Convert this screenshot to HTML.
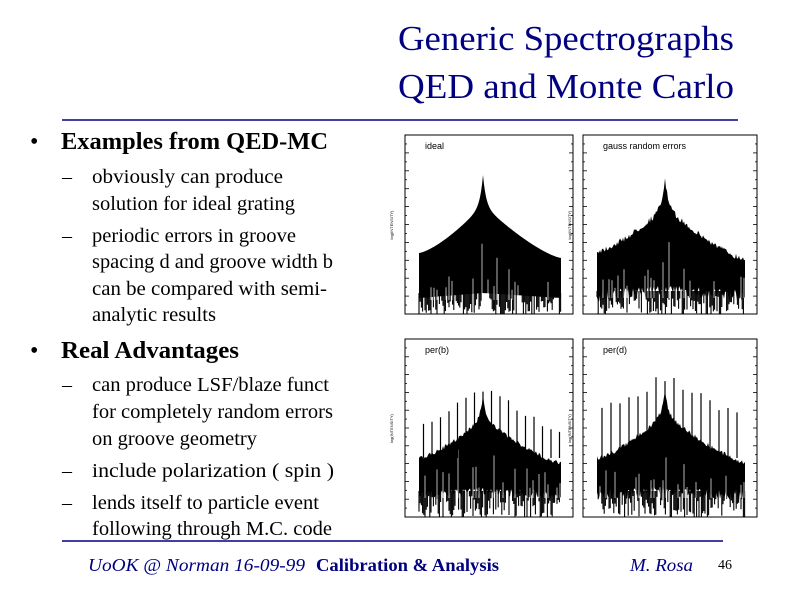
<!DOCTYPE html>
<html><head><meta charset="utf-8"><style>
html,body{margin:0;padding:0;background:#fff;width:800px;height:600px;overflow:hidden}
svg{display:block}
.t{font-family:"Liberation Serif",serif}
</style></head><body>
<svg id="s" width="800" height="600" xmlns="http://www.w3.org/2000/svg">
<g class="t" fill="#000080">
<text x="398" y="50" font-size="35" textLength="336" lengthAdjust="spacingAndGlyphs">Generic Spectrographs</text>
<text x="398" y="98" font-size="35" textLength="336" lengthAdjust="spacingAndGlyphs">QED and Monte Carlo</text>
</g>
<line x1="62" y1="120" x2="738" y2="120" stroke="#000080" stroke-width="1.5"/>
<line x1="62" y1="541" x2="723" y2="541" stroke="#000080" stroke-width="1.5"/>
<g class="t" fill="#000">
<text x="30" y="149" font-size="24">•</text>
<text x="61" y="149" font-size="24" font-weight="bold" textLength="267" lengthAdjust="spacingAndGlyphs">Examples from QED-MC</text>
<text x="62" y="183" font-size="20">–</text>
<text x="92" y="183" font-size="20" textLength="191" lengthAdjust="spacingAndGlyphs">obviously can  produce</text>
<text x="92" y="210" font-size="20" textLength="203" lengthAdjust="spacingAndGlyphs">solution for ideal grating</text>
<text x="62" y="242" font-size="20">–</text>
<text x="92" y="242" font-size="20" textLength="204" lengthAdjust="spacingAndGlyphs">periodic errors in groove</text>
<text x="92" y="268" font-size="20" textLength="241" lengthAdjust="spacingAndGlyphs">spacing d and groove width b</text>
<text x="92" y="295" font-size="20" textLength="235" lengthAdjust="spacingAndGlyphs">can be compared with semi-</text>
<text x="92" y="321" font-size="20" textLength="124" lengthAdjust="spacingAndGlyphs">analytic results</text>
<text x="30" y="358" font-size="24">•</text>
<text x="61" y="358" font-size="24" font-weight="bold" textLength="178" lengthAdjust="spacingAndGlyphs">Real Advantages</text>
<text x="62" y="391" font-size="20">–</text>
<text x="92" y="391" font-size="20" textLength="237" lengthAdjust="spacingAndGlyphs">can produce LSF/blaze funct</text>
<text x="92" y="418" font-size="20" textLength="241" lengthAdjust="spacingAndGlyphs">for completely random errors</text>
<text x="92" y="445" font-size="20" textLength="165" lengthAdjust="spacingAndGlyphs">on groove geometry</text>
<text x="62" y="477" font-size="20">–</text>
<text x="92" y="477" font-size="20" textLength="242" lengthAdjust="spacingAndGlyphs">include polarization ( spin )</text>
<text x="62" y="509" font-size="20">–</text>
<text x="92" y="509" font-size="20" textLength="227" lengthAdjust="spacingAndGlyphs">lends itself to particle event</text>
<text x="92" y="535" font-size="20" textLength="240" lengthAdjust="spacingAndGlyphs">following through M.C. code</text>
</g>
<g class="t" fill="#000080" font-size="18">
<text x="88" y="571" font-style="italic" textLength="217" lengthAdjust="spacingAndGlyphs">UoOK @ Norman  16-09-99</text>
<text x="316" y="571" font-weight="bold" textLength="183" lengthAdjust="spacingAndGlyphs">Calibration &amp; Analysis</text>
<text x="630" y="571" font-style="italic" textLength="63" lengthAdjust="spacingAndGlyphs">M. Rosa</text>
</g>
<text x="718" y="569" class="t" font-size="14" fill="#000">46</text>
<g id="charts"></g>
</svg>
<script>
var g=document.getElementById('charts'),NS='http://www.w3.org/2000/svg';
function el(t,a){var e=document.createElementNS(NS,t);for(var k in a)e.setAttribute(k,a[k]);g.appendChild(e);return e;}
var seed=7;function rnd(){seed=(seed*16807)%2147483647;return seed/2147483647;}
function panel(x0,y0,x1,y1,label,opt){
 el('rect',{x:x0,y:y0,width:x1-x0,height:y1-y0,fill:'none',stroke:'#000','stroke-width':1});
 for(var i=0;i<=20;i++){var y=y0+(y1-y0)*i/20;var L=i%2==0?4:2;
  el('line',{x1:x0,y1:y,x2:x0+L,y2:y,stroke:'#000','stroke-width':0.8});
  el('line',{x1:x1,y1:y,x2:x1-L,y2:y,stroke:'#000','stroke-width':0.8});}
 var t=el('text',{x:x0+20,y:y0+14,'font-family':'Liberation Sans,sans-serif','font-size':9,fill:'#000'});t.textContent=label;
 var yl=el('text',{x:0,y:0,'font-family':'Liberation Sans,sans-serif','font-size':4,fill:'#000',transform:'translate('+(x0-12)+','+((y0+y1)/2+15)+') rotate(-90)'});yl.textContent='log(INTENSITY)';
 var dx0=x0+14,dx1=x1-12,cx=opt.cx;
 var top=[],bot=[];
 for(var x=dx0;x<=dx1;x+=1){
  var r=Math.abs(x-cx);var side=x<cx?(cx-dx0):(dx1-cx);var f=r/side;
  var up=opt.base+(x<cx?0:opt.tilt*f)-opt.rise*Math.pow(1-f,1.4)-opt.peak*Math.exp(-r/3)+(opt.noise?(rnd()-0.5)*opt.noise:0);
  var lo=opt.lo-5*(1-f)+(opt.noise?(rnd()-0.5)*opt.noise*2:0);
  top.push(x+','+up.toFixed(1));bot.unshift(x+','+lo.toFixed(1));
 }
 el('polygon',{points:top.concat(bot).join(' '),fill:'#000'});
 var p='';
 for(var x=dx0;x<=dx1;x+=1.2){
  if(rnd()<0.75){var len=rnd()*(y1-opt.lo+2);p+='M'+x.toFixed(1)+' '+(opt.lo-5)+'V'+Math.min(y1,opt.lo+len).toFixed(1);}
 }
 el('path',{d:p,stroke:'#000','stroke-width':1.1,fill:'none'});
 var w='';
 for(var x=dx0+3;x<=dx1;x+=3){var r=Math.abs(x-cx);if(rnd()<0.35){var top2=opt.lo-8-rnd()*(r<30?50:20);w+='M'+x.toFixed(1)+' '+(opt.lo+2)+'V'+top2.toFixed(1);}}
 el('path',{d:w,stroke:'#fff','stroke-width':0.7,fill:'none'});
 if(opt.spikes){var s='';for(var k=-9;k<=9;k++){var x=cx+k*opt.spikes;if(x<dx0+2||x>dx1)continue;var hh=opt.sp0+Math.abs(k)*opt.spd+rnd()*10;s+='M'+x.toFixed(1)+' '+(opt.base)+'V'+hh.toFixed(1);}
 el('path',{d:s,stroke:'#000','stroke-width':1.2,fill:'none'});}
}
panel(405,135,573,314,'ideal',{cx:483,base:253,tilt:5,rise:48,peak:30,lo:298,noise:0});
panel(583,135,757,314,'gauss random errors',{cx:665,base:251,tilt:8,rise:44,peak:30,lo:296,noise:6});
panel(405,339,573,517,'per(b)',{cx:483,base:458,tilt:5,rise:40,peak:22,lo:496,noise:4,spikes:8.5,sp0:385,spd:5});
panel(583,339,757,517,'per(d)',{cx:665,base:458,tilt:4,rise:45,peak:22,lo:496,noise:5,spikes:9,sp0:372,spd:5});
</script>
</body></html>
